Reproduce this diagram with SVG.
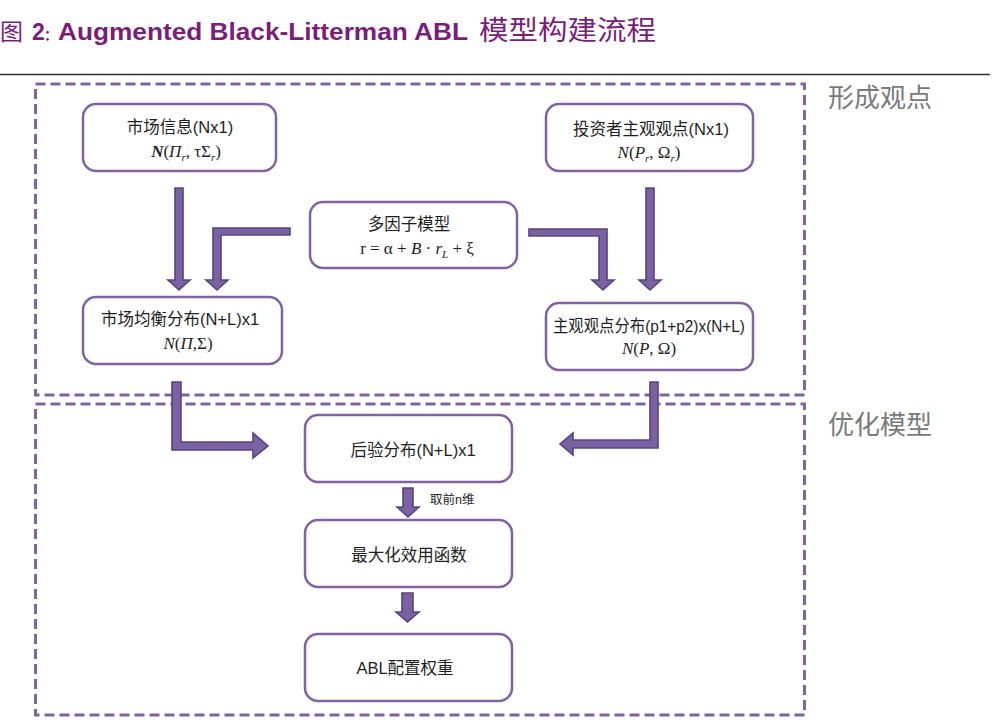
<svg xmlns="http://www.w3.org/2000/svg" width="998" height="728" viewBox="0 0 998 728">
<style>
.node rect{fill:#ffffff;stroke:#8064a2;stroke-width:2.5}
.lbl{font-family:"Liberation Sans","Noto Sans CJK SC",sans-serif;font-size:16.5px;fill:#1e1e1e;text-anchor:middle}
.math{font-family:"Liberation Serif","DejaVu Serif",serif;font-size:17px;fill:#1e1e1e;text-anchor:middle}
.it{font-style:italic}
.sub{font-size:11px;font-style:italic}
.arr{fill:#7a62a3;stroke:#58447f;stroke-width:1.6;stroke-linejoin:miter}
.frame{fill:none;stroke:#8064a2;stroke-width:3;stroke-dasharray:10 5}
.sec{font-family:"Noto Sans CJK SC",sans-serif;font-size:26px;fill:#7a7a7a}
</style>
<rect width="998" height="728" fill="#ffffff"/>
<g id="title">
<text y="40" font-family="Liberation Sans,'Noto Sans CJK SC',sans-serif" font-weight="bold" fill="#7b1e7a" font-size="23"><tspan x="0" font-family="Noto Sans CJK SC,sans-serif" font-weight="normal" font-size="23">图</tspan><tspan x="32">2</tspan><tspan x="44" font-family="Noto Sans CJK SC,sans-serif" font-size="14">：</tspan><tspan x="58" textLength="410" lengthAdjust="spacingAndGlyphs">Augmented Black-Litterman ABL</tspan><tspan x="479" font-family="Noto Sans CJK SC,sans-serif" font-weight="normal" font-size="27" textLength="177" lengthAdjust="spacingAndGlyphs">模型构建流程</tspan></text>
<line x1="0" y1="74.5" x2="990" y2="74.5" stroke="#333333" stroke-width="1.5"/>
</g>
<g id="frames">
<rect class="frame" x="35.5" y="84" width="769" height="311"/>
<rect class="frame" x="35.5" y="404" width="769" height="311"/>
<text class="sec" x="828" y="107">形成观点</text>
<text class="sec" x="828" y="434">优化模型</text>
</g>
<g id="connectors">
<polygon class="arr" points="175,188 183,188 183,280 190,280 179,290 168,280 175,280"/>
<polygon class="arr" points="290,228 213,228 213,280 206,280 217,290 228,280 221,280 221,235 290,235"/>
<polygon class="arr" points="529,229 607,229 607,280 614,280 603,290 592,280 599,280 599,236 529,236"/>
<polygon class="arr" points="646,188 654,188 654,280 661,280 650,290 639,280 646,280"/>
<polygon class="arr" points="172,382 181,382 181,442 253,442 253,433 268,446 253,458 253,450 172,450"/>
<polygon class="arr" points="658,382 650,382 650,440 573,440 573,433 560,444 573,455 573,448 658,448"/>
<polygon class="arr" points="403,488 413,488 413,507 419,507 408,517 397,507 403,507"/>
<polygon class="arr" points="402,593 413,593 413,612 419,612 407.5,622 396,612 402,612"/>
<text x="430" y="504" font-family="Liberation Sans,'Noto Sans CJK SC',sans-serif" font-size="12.5" fill="#1e1e1e">取前n维</text>
</g>
<g id="n1" class="node">
<rect x="83" y="104" width="193" height="67" rx="13"/>
<text class="lbl" x="180" y="133">市场信息(Nx1)</text>
<text class="math" x="186" y="157"><tspan class="it" font-weight="bold">N</tspan>(<tspan class="it">Π</tspan><tspan class="sub" dy="4">r</tspan><tspan dy="-4">, τΣ</tspan><tspan class="sub" dy="4">r</tspan><tspan dy="-4">)</tspan></text>
</g>
<g id="n2" class="node">
<rect x="546" y="104" width="207" height="67" rx="13"/>
<text class="lbl" x="651" y="135">投资者主观观点(Nx1)</text>
<text class="math" x="649" y="158"><tspan class="it">N</tspan>(<tspan class="it">P</tspan><tspan class="sub" dy="4">r</tspan><tspan dy="-4">, Ω</tspan><tspan class="sub" dy="4">r</tspan><tspan dy="-4">)</tspan></text>
</g>
<g id="n3" class="node">
<rect x="310" y="202" width="207" height="66" rx="13"/>
<text class="lbl" x="409" y="230">多因子模型</text>
<text class="math" x="417" y="254">r = α + <tspan class="it">B</tspan> · <tspan class="it">r</tspan><tspan class="sub" dy="4">L</tspan><tspan dy="-4"> + ξ</tspan></text>
</g>
<g id="n4" class="node">
<rect x="83" y="297" width="199" height="67" rx="13"/>
<text class="lbl" x="180" y="325">市场均衡分布(N+L)x1</text>
<text class="math" x="188" y="349"><tspan class="it">N</tspan>(<tspan class="it">Π</tspan>,Σ)</text>
</g>
<g id="n5" class="node">
<rect x="546" y="303" width="207" height="67" rx="13"/>
<text class="lbl" x="649" y="332" textLength="192" lengthAdjust="spacingAndGlyphs">主观观点分布(p1+p2)x(N+L)</text>
<text class="math" x="649" y="354"><tspan class="it">N</tspan>(<tspan class="it">P</tspan>, Ω)</text>
</g>
<g id="n6" class="node">
<rect x="305" y="415" width="207" height="67" rx="13"/>
<text class="lbl" x="413" y="456" font-size="17.5">后验分布(N+L)x1</text>
</g>
<g id="n7" class="node">
<rect x="305" y="520" width="207" height="67" rx="13"/>
<text class="lbl" x="409" y="561" font-size="19">最大化效用函数</text>
</g>
<g id="n8" class="node">
<rect x="305" y="634" width="207" height="67" rx="13"/>
<text class="lbl" x="405" y="674" font-size="19">ABL配置权重</text>
</g>
</svg>
